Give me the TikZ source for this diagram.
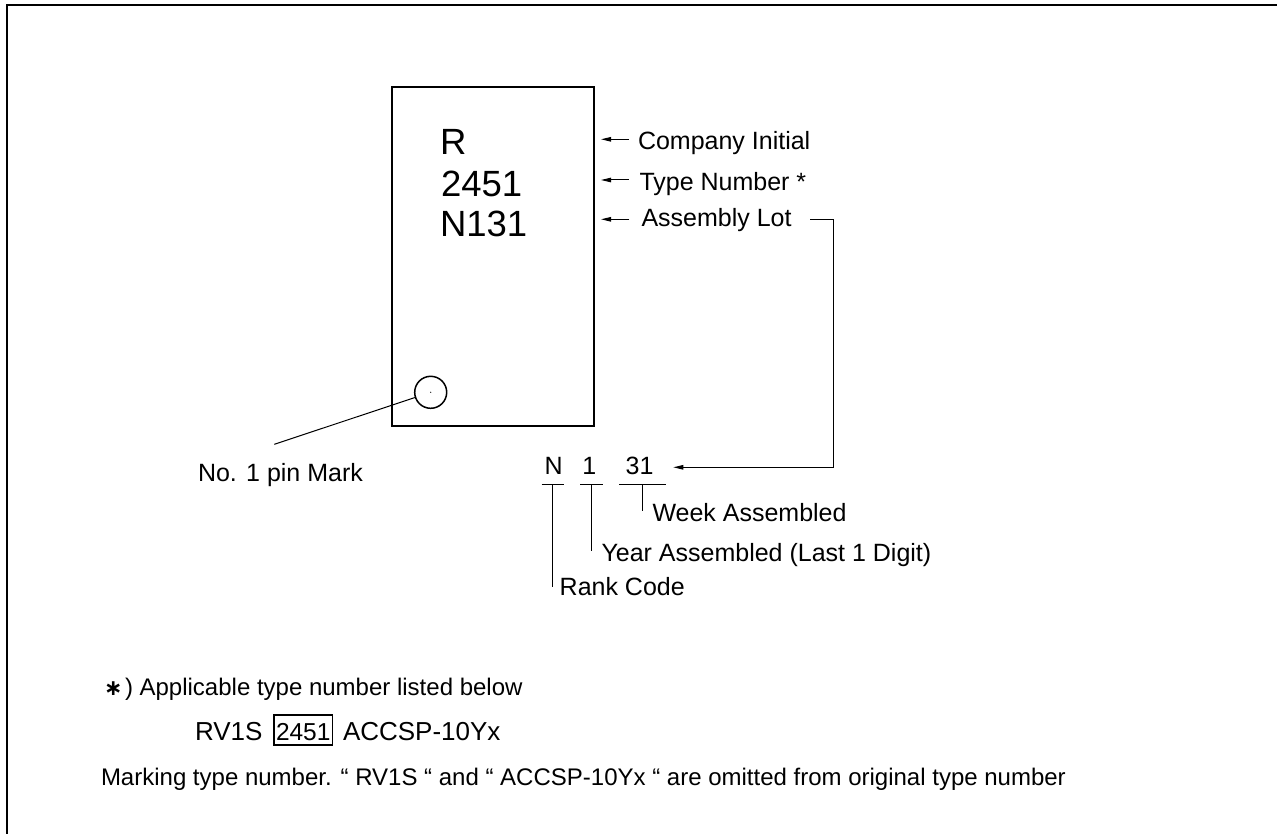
\documentclass[tikz,border=0pt]{standalone}
\usepackage{fontspec}
\setmainfont{Liberation Sans}
\newfontfamily\djv{DejaVu Sans}
\usetikzlibrary{arrows.meta,calc}
\begin{document}
\begin{tikzpicture}[x=1pt,y=-1pt,
  lbl/.style={inner sep=0pt, outer sep=0pt, anchor=base west, font=\fontsize{25}{30}\selectfont},
  chiptxt/.style={inner sep=0pt, outer sep=0pt, anchor=base west, font=\fontsize{36.5}{44}\selectfont},
  note/.style={inner sep=0pt, outer sep=0pt, anchor=base west, font=\fontsize{24}{29}\selectfont},
  tnote/.style={inner sep=0pt, outer sep=0pt, anchor=base west, font=\fontsize{26}{31}\selectfont},
  leader/.style={line width=1pt},
  arr/.style={line width=1pt, -{Triangle[length=10pt,width=4.5pt]}},
  ]
\useasboundingbox (0,0) rectangle (1277,834);
% frame
\draw[line width=2.2pt] (7,834) -- (7,5) -- (1277,5);
% chip
\node[draw, line width=2pt, minimum width=202pt, minimum height=339pt, inner sep=0pt, outer sep=0pt] (chip) at (493,256.5) {};
\node[chiptxt] (cR) at (440,155) {R};
\node[chiptxt] (c2451) at (441,196.7) {2451};
\node[chiptxt] (cN) at (440,237) {N131};
% pin mark
\node[circle, draw, line width=1.5pt, minimum size=32pt, inner sep=0pt] (pin) at (430.7,392.3) {};
\fill (pin.center) circle (0.6pt);
\coordinate (pinlead) at (274.3,444.3);
\draw[leader] (pinlead) -- (pin);
\node[lbl] (pinlbl) at (198,481.7) {No. 1 pin Mark};
% labels right of chip
\node[lbl] (lCo) at (638,150) {Company Initial};
\node[lbl] (lTy) at (639.5,191) {Type Number *};
\node[lbl] (lAs) at (641.5,227) {Assembly Lot};
\coordinate (aCo) at (629,139.3);
\coordinate (aTy) at (628.5,180);
\coordinate (aAs) at (629.3,219.3);
\draw[arr] (aCo) -- ([xshift=7pt]chip.east |- aCo);
\draw[arr] (aTy) -- ([xshift=7pt]chip.east |- aTy);
\draw[arr] (aAs) -- ([xshift=7pt]chip.east |- aAs);
% assembly lot breakdown
\node[lbl] (dN) at (544.5,474.3) {N};
\node[lbl] (d1) at (582.3,474.3) {1};
\node[lbl] (d31) at (625.6,474.3) {31};
\coordinate (lotA) at (810,220);
\coordinate (lotC) at (833.3,467.3);
\coordinate (tip31) at (673.3,467.3);
\draw[arr] (lotA) -| (lotC) -- (tip31);
\coordinate (uN1) at (541.7,484); \coordinate (uN2) at (564,484);
\coordinate (u11) at (580,484); \coordinate (u12) at (602.7,484);
\coordinate (u31) at (619.3,484); \coordinate (u32) at (665.7,484);
\draw[leader] (uN1) -- (uN2);
\draw[leader] (u11) -- (u12);
\draw[leader] (u31) -- (u32);
\node[lbl] (lWeek) at (652.5,521.7) {Week Assembled};
\node[lbl] (lYear) at (601.5,561.5) {Year Assembled (Last 1 Digit)};
\node[lbl] (lRank) at (559.7,595.5) {Rank Code};
\coordinate (tN) at (552.7,484); \coordinate (tNb) at (552.7,586.7);
\coordinate (t1) at (591,484); \coordinate (t1b) at (591,550.5);
\coordinate (t31) at (642.7,484); \coordinate (t31b) at (642.7,511);
\draw[leader] (tN) -- (tNb);
\draw[leader] (t1) -- (t1b);
\draw[leader] (t31) -- (t31b);
% notes
\node[inner sep=0pt, outer sep=0pt, font=\djv\bfseries\fontsize{22}{22}\selectfont] (ast) at (113.3,689) {∗};
\node[note] (nApp) at (125,695) {) Applicable type number listed below};
\node[tnote] (nRV) at (195,740) {RV1S};
\node[draw, line width=1.8pt, inner xsep=2pt, inner ysep=0pt, outer sep=0pt, text height=24.7pt, text depth=5pt, anchor=base west, font=\fontsize{24.5}{29}\selectfont] (nBox) at (274,740) {2451};
\node[tnote] (nAC) at (343,740) {ACCSP-10Yx};
\node[note] (nMk) at (101,785) {Marking type number. “ RV1S “ and “ ACCSP-10Yx “ are omitted from original type number};
\end{tikzpicture}
\end{document}
